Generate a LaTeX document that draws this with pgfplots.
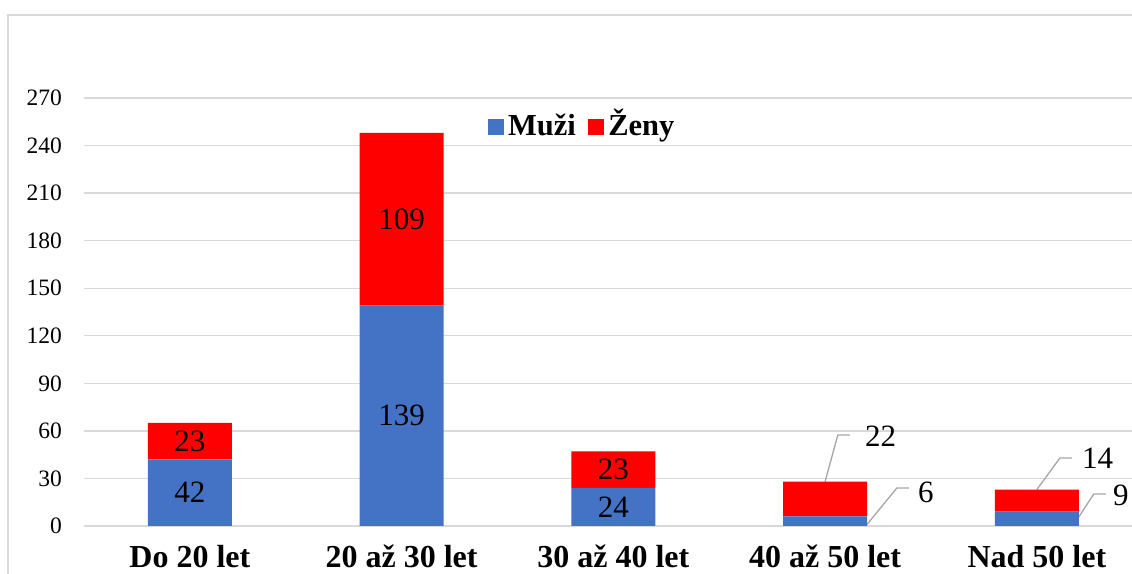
\documentclass[border=0pt]{standalone}
\usepackage{fontspec}
\setmainfont{Liberation Serif}
\usepackage{pgfplots}
\usepackage{pgfplotstable}
\pgfplotsset{compat=1.18}
\definecolor{cblue}{HTML}{4472C4}
\definecolor{cred}{HTML}{FF0000}
\definecolor{cgrid}{HTML}{D9D9D9}
\definecolor{clead}{HTML}{A6A6A6}
\pgfplotstableread{
x muzi zeny mlab zlab
0 42 23 42 23
1 139 109 139 109
2 24 23 24 23
3 6 22 {} {}
4 9 14 {} {}
}\data
\newcommand{\lblfont}{\fontsize{31bp}{36bp}\selectfont}
\begin{document}
\begin{tikzpicture}
\fill[white] (-84bp,-48bp) rectangle (1048bp,526bp);
\draw[cgrid, line width=1.3bp] (-76bp,-200bp) rectangle (1300bp,511bp);
\begin{axis}[
  at={(0bp,0bp)}, anchor=south west,
  scale only axis, width=1058.75bp, height=428bp,
  xmin=-0.5, xmax=4.5, ymin=0, ymax=270,
  enlarge x limits=false, enlarge y limits=false,
  ybar stacked, bar width=84bp,
  axis line style={draw=none},
  major tick length=0pt,
  ymajorgrids, grid style={cgrid, line width=1.3bp},
  xtick={0,1,2,3,4},
  xticklabels={Do 20 let, 20 až 30 let, 30 až 40 let, 40 až 50 let, Nad 50 let},
  ytick={0,30,...,270},
  /pgf/number format/assume math mode=true,
  yticklabel style={anchor=east, inner sep=0pt, xshift=-22bp, font=\fontsize{23.5bp}{28bp}\selectfont},
  xticklabel style={anchor=base, inner sep=0pt, yshift=-41bp, font=\fontsize{32bp}{38bp}\selectfont\bfseries},
  point meta=explicit symbolic,
  nodes near coords,
  every node near coord/.append style={anchor=center, inner sep=0pt, black, font=\lblfont},
  legend style={at={(0.4713,0.9416)}, anchor=center, draw=none, fill=none,
    legend columns=-1, font=\fontsize{30.5bp}{36bp}\selectfont\bfseries,
    /tikz/every even column/.append style={column sep=8bp},
    nodes={inner xsep=4bp, anchor=base west}},
]
\addplot[fill=cblue, draw=none,
  legend image code/.code={\fill[cblue] (0bp,0bp) rectangle (16.5bp,16.5bp);}]
  table[x=x, y=muzi, meta=mlab] {\data};
\addlegendentry{Muži}
\addplot[fill=cred, draw=none,
  legend image code/.code={\fill[cred] (0bp,0bp) rectangle (16.5bp,16.5bp);}]
  table[x=x, y=zeny, meta=zlab] {\data};
\addlegendentry{Ženy}
% callout leader lines and labels
\draw[clead, line width=1.3bp] (axis cs:3,28) -- (axis cs:3.06,57.4) -- (axis cs:3.117,57.4);
\node[anchor=west, inner sep=0pt, font=\lblfont] at (axis cs:3.188,56.5) {22};
\draw[clead, line width=1.3bp] (axis cs:3.198,1) -- (axis cs:3.339,24) -- (axis cs:3.396,24);
\node[anchor=west, inner sep=0pt, font=\lblfont] at (axis cs:3.438,21.5) {6};
\draw[clead, line width=1.3bp] (axis cs:4,23) -- (axis cs:4.109,42.9) -- (axis cs:4.165,42.9);
\node[anchor=west, inner sep=0pt, font=\lblfont] at (axis cs:4.213,42.5) {14};
\draw[clead, line width=1.3bp] (axis cs:4.198,5.7) -- (axis cs:4.269,20.2) -- (axis cs:4.326,20.2);
\node[anchor=west, inner sep=0pt, font=\lblfont] at (axis cs:4.359,19.5) {9};
\end{axis}
\pgfresetboundingbox
\useasboundingbox (-84bp,-48bp) rectangle (1048bp,526bp);
\end{tikzpicture}
\end{document}
